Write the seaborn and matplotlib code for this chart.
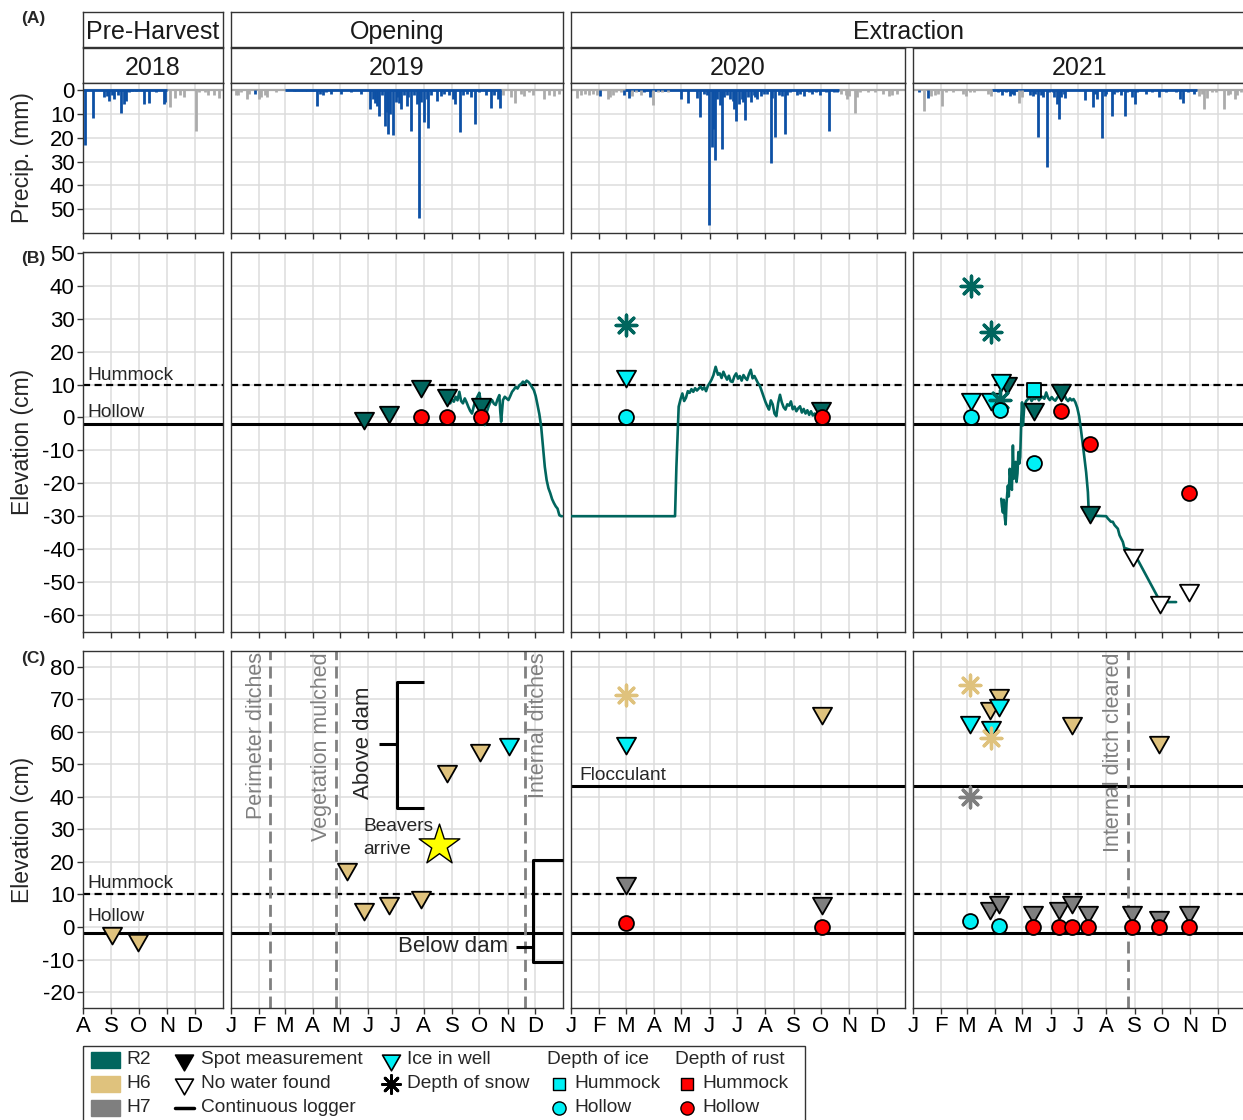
import matplotlib
matplotlib.use("Agg")
import matplotlib.pyplot as plt
from matplotlib.path import Path
from matplotlib.patches import Rectangle
import seaborn as sns

sns.set_theme(style="white")
plt.rcParams['font.family'] = ['Liberation Sans', 'DejaVu Sans']

# ---------------------------------------------------------------- data
years = [2018, 2019, 2020, 2021]
periods = ["Pre-Harvest", "Opening", "Extraction"]
month_letters = list("JFMAMJJASOND")
sites = ["R2", "H6", "H7"]

# precipitation: day of year and mm (rain = blue, snow = grey)
rain2018_d = [215, 224, 236, 239, 241, 245, 247, 251, 255, 258, 260, 263, 267, 271, 280, 285, 293, 301, 303]
rain2018_v = [23.0, 11.8, 3.0, 2.5, 4.5, 2.0, 4.0, 2.0, 9.7, 6.0, 4.5, 1.0, 0.6, 0.6, 6.0, 5.4, 1.0, 6.0, 5.0]
snow2018_d = [308, 313, 319, 323, 336, 340, 346, 350, 356, 362]
snow2018_v = [7.0, 3.5, 2.0, 3.0, 17.2, 1.0, 1.0, 2.0, 2.0, 3.5]

rain2019_d = [27, 70, 73, 76, 79, 82, 85, 88, 91, 95, 99, 102, 105, 111, 122, 133, 144, 154, 157, 159,
              161, 164, 167, 170, 172, 174, 176, 179, 182, 184, 186, 188, 191, 194, 196, 199, 202, 205,
              208, 210, 213, 216, 218, 221, 227, 232, 235, 241, 245, 247, 253, 256, 261, 265, 269, 274,
              281, 287, 290, 295, 297]
rain2019_v = [1.8, 0.4, 0.4, 0.4, 0.4, 0.4, 0.4, 0.4, 0.4, 6.7, 1.5, 2.0, 1.0, 1.5, 1.5, 1.0, 1.5, 7.8, 4.0, 5.5,
              6.7, 10.8, 2.0, 15.0, 9.4, 18.5, 10.0, 18.9, 5.0, 3.0, 5.3, 8.0, 2.0, 6.7, 3.0, 17.0, 2.0, 6.0,
              53.6, 5.0, 13.6, 4.0, 16.0, 2.0, 4.5, 2.5, 1.5, 2.0, 4.0, 6.0, 17.5, 2.0, 1.5, 3.0, 14.4, 1.0,
              2.0, 7.4, 2.0, 4.0, 7.4]
snow2019_d = [7, 9, 12, 19, 21, 32, 34, 38, 41, 50, 300, 309, 313, 320, 323, 329, 333, 345, 351, 356, 362]
snow2019_v = [2.0, 2.0, 1.0, 4.0, 1.5, 4.0, 3.0, 2.0, 3.0, 1.0, 2.0, 3.0, 5.5, 1.5, 2.5, 1.0, 2.0, 3.6, 2.0, 2.5, 1.5]

rain2020_d = [33, 59, 65, 81, 88, 121, 129, 139, 142, 147, 150, 152, 155, 157, 159, 161, 164, 167, 169, 172,
              175, 178, 180, 182, 185, 188, 190, 192, 195, 198, 201, 203, 205, 209, 212, 216, 220, 221, 225,
              229, 232, 235, 238, 241, 249, 252, 256, 262, 265, 269, 274, 280, 284, 289, 292]
rain2020_v = [2.5, 2.0, 3.2, 1.0, 3.0, 3.9, 5.5, 3.2, 11.2, 1.5, 2.0, 56.7, 24.0, 16.4, 29.2, 4.0, 6.4, 24.7, 3.0, 2.0,
              4.0, 4.6, 8.0, 12.9, 6.0, 4.0, 5.0, 12.5, 3.0, 5.0, 2.0, 3.0, 4.0, 2.5, 1.5, 1.5, 30.7, 3.2, 19.9,
              2.0, 2.5, 18.5, 2.0, 1.0, 2.0, 1.5, 2.5, 1.0, 1.5, 1.0, 2.0, 1.0, 17.1, 1.0, 1.0]
snow2020_d = [8, 12, 16, 21, 25, 30, 41, 44, 47, 50, 56, 68, 72, 78, 91, 96, 101, 107, 297, 302, 303, 306,
              312, 314, 318, 327, 334, 343, 349, 353, 358]
snow2020_v = [3.2, 2.0, 1.5, 2.0, 1.5, 2.0, 3.6, 3.0, 2.0, 1.0, 1.0, 2.5, 1.0, 2.0, 6.4, 1.0, 1.0, 1.0, 1.5, 2.0, 3.9,
              2.5, 9.7, 3.0, 1.0, 1.0, 1.0, 1.5, 2.5, 2.0, 1.5]

rain2021_d = [8, 17, 94, 99, 103, 107, 110, 112, 129, 132, 135, 138, 141, 144, 148, 150, 154, 156, 159, 161,
              163, 166, 168, 190, 198, 201, 203, 208, 211, 213, 219, 221, 225, 229, 233, 236, 241, 244, 247,
              256, 263, 271, 278, 289, 294, 297, 302, 309]
rain2021_v = [1.0, 3.2, 1.0, 2.0, 1.0, 2.5, 1.5, 2.0, 2.0, 2.5, 1.5, 19.6, 2.0, 3.0, 32.4, 1.0, 1.0, 3.0, 6.0, 12.0,
              3.0, 1.5, 3.5, 4.2, 7.0, 1.5, 3.9, 20.1, 2.5, 1.5, 11.1, 1.5, 1.0, 2.0, 11.1, 1.0, 3.0, 6.0, 1.0,
              1.5, 1.0, 2.8, 1.0, 1.0, 3.6, 5.5, 1.0, 1.5]
snow2021_d = [13, 21, 25, 28, 33, 37, 45, 56, 59, 63, 68, 83, 87, 117, 120, 314, 318, 320, 323, 329, 333, 342,
              346, 349, 354, 356, 360]
snow2021_v = [8.75, 2.5, 2.0, 1.5, 6.7, 1.0, 1.0, 1.5, 2.5, 1.0, 1.0, 1.5, 2.5, 5.5, 3.0, 2.5, 1.5, 7.8, 3.2, 1.0,
              1.0, 8.0, 2.0, 1.5, 3.6, 2.0, 1.0]
rain_season = {2018: (213, 305), 2019: (60, 298), 2020: (60, 295), 2021: (88, 312)}

# continuous logger R2 (day of year, cm)
log2019_d = [242, 244, 246, 248, 250, 252, 254, 256, 258, 260, 262, 264, 266, 268, 270, 272, 274, 276, 278, 280,
             282, 284, 286, 288, 290, 292, 294, 296, 297, 298, 300, 302, 304, 306, 308, 310, 312, 314, 316, 318,
             320, 322, 324, 326, 328, 330, 332, 334, 336, 338, 340, 342, 344, 346, 348, 350, 352, 354, 356, 358,
             360, 362, 364, 365]
log2019_v = [4.3, 5.5, 4.8, 6.3, 5.2, 7.8, 5.0, 4.3, 5.8, 4.6, 3.2, 2.0, 1.2, 3.5, 5.3, 6.4, 7.5, 4.0, 2.5, -2.3,
             1.5, 3.2, 4.6, 5.3, 4.2, 3.8, 5.5, 6.8, 2.0, -1.3, 5.3, 6.3, 5.8, 5.3, 6.5, 7.8, 8.5, 9.3, 8.8, 9.8,
             10.2, 10.9, 10.4, 11.2, 10.8, 10.1, 9.2, 8.3, 6.5, 3.8, 1.0, -2.8, -8.9, -15.0, -19.0, -21.5, -23.0,
             -24.8, -26.0, -27.0, -27.7, -29.7, -30.0, -30.0]
log2020_d = [1, 115, 116.5, 118, 119, 121, 123, 125, 127, 129, 131, 133, 135, 137, 139, 141, 143, 145, 147, 149,
             151, 153, 155, 157, 159.5, 162, 164, 166, 168, 170, 172, 174, 176, 178, 180, 182, 184, 186, 188, 190,
             192, 194, 196, 198, 200, 202, 204, 206, 208, 210, 212, 214, 216, 218, 220, 222, 224, 226, 228, 230,
             232, 234, 236, 238, 240, 242, 244, 246, 248, 250, 252, 254, 256, 258, 260, 262, 264, 266, 268, 270]
log2020_v = [-30.0, -30.0, -15.0, -4.0, 3.3, 5.5, 7.3, 5.0, 6.0, 8.0, 7.5, 8.6, 7.8, 8.9, 8.2, 8.8, 9.4, 8.5, 9.2, 8.0,
             9.6, 10.5, 11.5, 12.8, 15.4, 13.0, 13.4, 12.0, 13.9, 12.6, 11.5, 12.7, 11.0, 10.8, 12.5, 13.4, 11.8,
             12.6, 11.2, 12.9, 12.0, 11.4, 13.2, 14.5, 11.9, 12.6, 11.5, 10.4, 9.6, 8.0, 6.4, 4.8, 3.5, 2.4, 5.2,
             4.0, 1.2, 0.4, 4.4, 6.9, 4.6, 3.1, 2.4, 4.0, 3.6, 4.9, 2.5, 3.3, 1.9, 2.8, 3.4, 1.5, 2.6, 1.2, 2.2,
             0.8, 1.9, 0.6, 1.2, 0.4]
log2021_d = [97.7, 98.5, 99.6, 100.5, 101.5, 102.5, 103.5, 105, 106, 107, 108, 109.4, 110.5, 111.5, 112.5, 113.5,
             114.5, 115.5, 116.5, 117.5, 118.5, 119.7, 120.5, 121.5, 123, 125, 127, 129, 131, 133, 135, 137, 139,
             141, 143, 145, 147, 149, 151, 153, 155, 157, 159, 161, 163, 165, 167, 169, 171, 173, 175, 177, 179,
             181, 183, 185, 187, 189, 190.8, 192.7, 193.8, 212.7, 214.6, 218, 220, 221.9, 225.5, 227.4, 231,
             232.8, 234.7, 242, 269.3, 271, 289.4]
log2021_v = [-24.7, -27.0, -28.9, -25.0, -30.0, -32.5, -26.0, -20.7, -24.0, -15.6, -19.0, -22.0, -8.5, -18.6, -16.0,
             -13.5, -19.6, -17.0, -10.5, -14.0, -12.0, -0.4, 4.6, -2.4, 3.6, 5.0, 5.6, 6.3, 5.0, 5.8, 5.6, 6.5, 5.2,
             5.9, 6.3, 5.7, 7.6, 6.0, 5.3, 6.2, 5.5, 5.1, 6.0, 6.6, 7.6, 7.3, 6.8, 5.6, 5.0, 5.8, 5.2, 5.6, 4.6,
             3.0, 0.5, -3.5, -8.0, -12.5, -16.7, -22.7, -29.8, -30.0, -30.7, -31.7, -31.7, -32.7, -33.8, -35.8,
             -37.8, -39.8, -39.8, -40.5, -54.6, -56.1, -56.1]

# panel B (R2) point observations: (day, cm)
b_spot = {2019: ([147, 175, 210, 238, 276], [-0.3, 1.7, 9.7, 6.7, 4.1]),
          2020: ([275], [2.9]),
          2021: ([104, 133.5, 162.7, 194.5], [10.5, 2.7, 8.3, -28.7])}
b_nowater = {2021: ([242, 272, 303.3], [-41.9, -56.1, -52.5])}
b_icewell = {2020: ([61], [12.6]), 2021: ([65, 87, 97.7], [5.7, 5.7, 11.3])}
b_snow = {2020: ([61], [28.1]), 2021: ([65, 87, 96], [39.9, 26.0, 5.3])}
b_ice_hollow = {2020: ([61], [0.2]), 2021: ([65, 96.7, 133.5], [0.15, 2.2, -13.7])}
b_ice_hummock = {2021: ([133.5], [8.3])}
b_rust_hollow = {2019: ([210, 238, 276], [0.0, 0.0, 0.0]), 2020: ([276], [0.0]),
                 2021: ([162.7, 194.5, 303.3], [2.0, -8.0, -22.9])}

# panel C (H6 / H7) point observations
c_spot_h6 = {2018: ([245, 273], [-2.0, -4.1]),
             2019: ([128.5, 147.6, 175, 210, 238.8, 275], [17.7, 5.4, 7.4, 9.3, 47.8, 54.5]),
             2020: ([276.5], [65.7]),
             2021: ([85, 95.8, 175.2, 270.7], [67.3, 71.4, 62.8, 56.7])}
c_spot_h7 = {2020: ([61, 276.5], [13.5, 7.5]),
             2021: ([85, 95.8, 132.6, 160.7, 175.2, 193, 240.7, 270.7, 303],
                    [5.8, 7.8, 4.7, 5.8, 7.8, 4.7, 4.7, 3.2, 4.7])}
c_icewell = {2019: ([307], [56.3]), 2020: ([61], [56.6]), 2021: ([63, 86, 95.8], [62.9, 61.3, 68.1])}
c_snow_h6 = {2020: ([61], [71.4]), 2021: ([63, 86], [74.3, 58.2])}
c_snow_h7 = {2021: ([63], [39.9])}
c_ice_hollow = {2021: ([63, 95.8], [1.9, 0.3])}
c_rust_hollow = {2020: ([61, 276.5], [1.1, 0.1]),
                 2021: ([132.6, 160.7, 175.2, 193, 240.7, 270.7, 303], [0.1, 0.1, 0.1, 0.1, 0.1, 0.1, 0.1])}

hummock_cm = 10
hollow_cm = -2
flocculant_cm = 43.3
events = {2019: [(44, "Perimeter ditches"), (116.5, "Vegetation mulched"), (324.5, "Internal ditches")],
          2021: [(236.8, "Internal ditch cleared")]}
beaver_day, beaver_cm = 229.2, 25.2

# ---------------------------------------------------------------- style
R2, H6, H7 = "#01665E", "#DFC27D", "#7F7F7F"
CYAN, RED = "#00F0F5", "#FF0000"
BLUE, GREYP = "#0D50A5", "#ABABAB"
EDGE = "#333333"
TRI = Path([(-1, 0.6), (1, 0.6), (0, -1.15), (-1, 0.6)],
           [Path.MOVETO, Path.LINETO, Path.LINETO, Path.CLOSEPOLY])
AST = (8, 2, 0)
S_TRI, S_CIR, S_SQ, S_AST = 250, 115, 110, 220
TICK_FS = 16

W, H = 1243, 1120
fig = plt.figure(figsize=(W / 100, H / 100), dpi=100)


def rect(x0, y0, x1, y1):
    return [x0 / W, 1 - y1 / H, (x1 - x0) / W, (y1 - y0) / H]


COLS = {2018: (83, 223), 2019: (231, 563), 2020: (571, 905), 2021: (913, 1246)}
ROWS = {"A": (83, 233), "B": (252, 632), "C": (651, 1008)}
MS = [1, 32, 60, 91, 121, 152, 182, 213, 244, 274, 305, 335]
MSL = [1, 32, 61, 92, 122, 153, 183, 214, 245, 275, 306, 336]


def month_axis(yr):
    if yr == 2018:
        return (213, 366), MS[7:], month_letters[7:]
    if yr == 2020:
        return (1, 367), MSL, month_letters
    return (1, 366), MS, month_letters


def style(ax, yr, row):
    xlim, ticks, labs = month_axis(yr)
    ax.set_xlim(*xlim)
    ax.set_xticks(ticks)
    ax.set_xticklabels(labs if row == "C" else [])
    if row == "A":
        ax.set_ylim(59.9, -2.9)
        yt = list(range(0, 51, 10))
    elif row == "B":
        ax.set_ylim(-65.2, 50.3)
        yt = list(range(-60, 51, 10))
    else:
        ax.set_ylim(-24.9, 84.8)
        yt = list(range(-20, 81, 10))
    ax.set_yticks(yt)
    first = yr == 2018
    ax.set_yticklabels([str(v) for v in yt] if first else [])
    ax.tick_params(axis='x', length=4, width=1, color=EDGE, labelsize=TICK_FS, pad=2, labelcolor='black',
                   bottom=True)
    ax.tick_params(axis='y', length=4 if first else 0, width=1, color=EDGE, labelsize=TICK_FS, pad=2,
                   labelcolor='black', left=first)
    ax.grid(True, color="#DCDCDC", lw=1.1)
    ax.set_axisbelow(True)
    ax.set_xlabel("")
    ax.set_ylabel("")
    ax.set_facecolor("white")
    for sp in ax.spines.values():
        sp.set_color(EDGE)
        sp.set_linewidth(1.0)


def pts(ax, data, yr, marker, color, s, ec="black", lw=1.3, z=5):
    if yr not in data:
        return
    xs, ys = data[yr]
    sns.scatterplot(x=xs, y=ys, ax=ax, marker=marker, color=color, s=s, edgecolor=ec,
                    linewidth=lw, zorder=z, legend=False)


def strip(x0, y0, x1, y1, label):
    a = fig.add_axes(rect(x0, y0, x1, y1))
    a.set_xticks([])
    a.set_yticks([])
    a.set_facecolor("white")
    for sp in a.spines.values():
        sp.set_color(EDGE)
        sp.set_linewidth(1.0)
    a.text(0.5, 0.22, label, transform=a.transAxes, ha='center', va='baseline', fontsize=18, color='#1a1a1a')


# strips
strip(83, 12, 223, 47, periods[0])
strip(231, 12, 563, 47, periods[1])
strip(571, 12, 1246, 47, periods[2])
for yr in years:
    strip(COLS[yr][0], 48, COLS[yr][1], 83, str(yr))

precip = {2018: (rain2018_d, rain2018_v, snow2018_d, snow2018_v),
          2019: (rain2019_d, rain2019_v, snow2019_d, snow2019_v),
          2020: (rain2020_d, rain2020_v, snow2020_d, snow2020_v),
          2021: (rain2021_d, rain2021_v, snow2021_d, snow2021_v)}
loggers = {2019: (log2019_d, log2019_v), 2020: (log2020_d, log2020_v), 2021: (log2021_d, log2021_v)}

for yr in years:
    x0, x1 = COLS[yr]
    # ---- A: precipitation
    axA = fig.add_axes(rect(x0, ROWS["A"][0], x1, ROWS["A"][1]))
    rd, rv, sd, sv = precip[yr]
    axA.axhline(0, color=GREYP, lw=1.6, zorder=2)
    axA.hlines(0, rain_season[yr][0], rain_season[yr][1], color=BLUE, lw=2.0, zorder=2)
    axA.vlines(sd, 0, sv, color=GREYP, lw=2.0, zorder=3)
    axA.vlines(rd, 0, rv, color=BLUE, lw=2.0, zorder=3)
    style(axA, yr, "A")

    # ---- B: R2
    axB = fig.add_axes(rect(x0, ROWS["B"][0], x1, ROWS["B"][1]))
    axB.axhline(hummock_cm, color='black', lw=1.6, ls=(0, (3.2, 2.0)), zorder=2)
    axB.axhline(hollow_cm, color='black', lw=2.2, zorder=2)
    if yr in loggers:
        sns.lineplot(x=loggers[yr][0], y=loggers[yr][1], ax=axB, color=R2, linewidth=1.9,
                     estimator=None, legend=False, zorder=3)
    pts(axB, b_spot, yr, TRI, R2, S_TRI)
    pts(axB, b_nowater, yr, TRI, "white", S_TRI)
    pts(axB, b_icewell, yr, TRI, CYAN, S_TRI)
    pts(axB, b_snow, yr, AST, R2, S_AST, ec=R2, lw=2.4, z=6)
    pts(axB, b_ice_hollow, yr, "o", CYAN, S_CIR, z=7)
    pts(axB, b_rust_hollow, yr, "o", RED, S_CIR, z=7)
    pts(axB, b_ice_hummock, yr, "s", CYAN, S_SQ, z=7)
    style(axB, yr, "B")

    # ---- C: H6 / H7
    axC = fig.add_axes(rect(x0, ROWS["C"][0], x1, ROWS["C"][1]))
    axC.axhline(hummock_cm, color='black', lw=1.6, ls=(0, (3.2, 2.0)), zorder=2)
    axC.axhline(hollow_cm, color='black', lw=2.2, zorder=2)
    if yr in (2020, 2021):
        axC.axhline(flocculant_cm, color='black', lw=2.2, zorder=2)
    for d, lab in events.get(yr, []):
        axC.axvline(d, color="#808080", lw=2.0, ls=(0, (4.3, 2.3)), zorder=2)
        tx = d + 15 if d > 300 else d - 15.5
        axC.text(tx, 84.4, lab, rotation=90, ha='center', va='top', fontsize=15.5, color="#808080", zorder=4)
    pts(axC, c_spot_h6, yr, TRI, H6, S_TRI)
    pts(axC, c_spot_h7, yr, TRI, H7, S_TRI)
    pts(axC, c_icewell, yr, TRI, CYAN, S_TRI)
    pts(axC, c_snow_h6, yr, AST, H6, S_AST, ec=H6, lw=2.4, z=6)
    pts(axC, c_snow_h7, yr, AST, H7, S_AST, ec=H7, lw=2.4, z=6)
    pts(axC, c_ice_hollow, yr, "o", CYAN, S_CIR, z=7)
    pts(axC, c_rust_hollow, yr, "o", RED, S_CIR, z=7)
    style(axC, yr, "C")

    if yr == 2018:
        for ax, (yh, yl) in ((axB, (12.9, 1.6)), (axC, (13.5, 3.1))):
            ax.text(218, yh, "Hummock", fontsize=13.8, va='center', ha='left', zorder=6)
            ax.text(218, yl, "Hollow", fontsize=13.8, va='center', ha='left', zorder=6)
    if yr == 2020:
        axC.text(9.7, 46.6, "Flocculant", fontsize=13.8, va='center', ha='left', zorder=6)
    if yr == 2019:
        sns.scatterplot(x=[beaver_day], y=[beaver_cm], ax=axC, marker='*', s=950, color='yellow',
                        edgecolor='black', linewidth=1.0, zorder=7, legend=False)
        axC.text(146.6, 30.9, "Beavers", fontsize=13.8, va='center', ha='left', zorder=6)
        axC.text(146.6, 23.7, "arrive", fontsize=13.8, va='center', ha='left', zorder=6)
        # above-dam bracket
        axC.plot([213.3, 183.3, 183.3, 213.3], [75.4, 75.4, 36.7, 36.7], color='black', lw=2.2,
                 solid_capstyle='butt', zorder=4)
        axC.plot([163.8, 183.3], [56.1, 56.1], color='black', lw=2.2, solid_capstyle='butt', zorder=4)
        axC.text(146.6, 56.6, "Above dam", rotation=90, ha='center', va='center', fontsize=16, zorder=6)
        # below-dam bracket
        axC.plot([366, 332.9, 332.9, 366], [20.6, 20.6, -10.8, -10.8], color='black', lw=2.2,
                 solid_capstyle='butt', zorder=4, clip_on=False)
        axC.plot([314.1, 332.9], [-6.1, -6.1], color='black', lw=2.2, solid_capstyle='butt', zorder=4)
        axC.text(306, -6.1, "Below dam", ha='right', va='center', fontsize=16, zorder=6)

# axis titles and panel tags
fig.text(23 / W, 1 - 158 / H, "Precip. (mm)", rotation=90, ha='center', va='center', fontsize=16.5)
fig.text(23 / W, 1 - 442 / H, "Elevation (cm)", rotation=90, ha='center', va='center', fontsize=16.5)
fig.text(23 / W, 1 - 830 / H, "Elevation (cm)", rotation=90, ha='center', va='center', fontsize=16.5)
for tag, yy in (("(A)", 18), ("(B)", 258), ("(C)", 658)):
    fig.text(33 / W, 1 - yy / H, tag, ha='center', va='center', fontsize=12.5, fontweight='bold')

# ---------------------------------------------------------------- legend
lg = fig.add_axes([0, 0, 1, 1])
lg.set_xlim(0, W)
lg.set_ylim(H, 0)
lg.axis('off')
lg.patch.set_alpha(0)
lg.add_patch(Rectangle((83.5, 1045.5), 722, 90, fill=False, edgecolor=EDGE, lw=1.0))
rows_y = [1060, 1084, 1108]
FS = 13.8
for yy, col, lab in zip(rows_y, (R2, H6, H7), sites):
    lg.add_patch(Rectangle((91, yy - 8), 29, 16, color=col))
    lg.text(126, yy, lab, va='center', ha='left', fontsize=FS)
lg.scatter([184], [rows_y[0]], marker=TRI, s=220, c='black', edgecolors='black', linewidths=1.2)
lg.scatter([184], [rows_y[1]], marker=TRI, s=220, c='white', edgecolors='black', linewidths=1.2)
lg.plot([175, 194], [rows_y[2], rows_y[2]], color='black', lw=2.5)
for yy, lab in zip(rows_y, ("Spot measurement", "No water found", "Continuous logger")):
    lg.text(201, yy, lab, va='center', ha='left', fontsize=FS)
lg.scatter([391], [rows_y[0]], marker=TRI, s=220, c=CYAN, edgecolors='black', linewidths=1.2)
lg.scatter([391], [rows_y[1]], marker=AST, s=170, c='black', linewidths=2.0)
lg.text(407, rows_y[0], "Ice in well", va='center', ha='left', fontsize=FS)
lg.text(407, rows_y[1], "Depth of snow", va='center', ha='left', fontsize=FS)
for hx, mx, col, head in ((547, 559, CYAN, "Depth of ice"), (675, 687, RED, "Depth of rust")):
    lg.text(hx, rows_y[0], head, va='center', ha='left', fontsize=FS)
    lg.scatter([mx], [rows_y[1]], marker='s', s=85, c=col, edgecolors='black', linewidths=1.0)
    lg.scatter([mx], [rows_y[2]], marker='o', s=90, c=col, edgecolors='black', linewidths=1.0)
    lg.text(mx + 15, rows_y[1], "Hummock", va='center', ha='left', fontsize=FS)
    lg.text(mx + 15, rows_y[2], "Hollow", va='center', ha='left', fontsize=FS)

fig.savefig("out.png", dpi=100)
